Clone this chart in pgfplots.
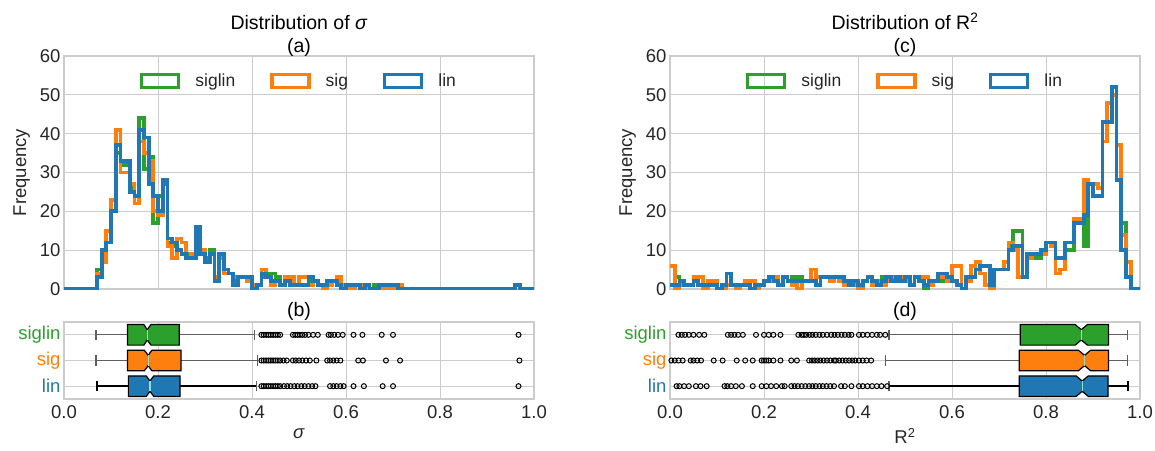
\documentclass[border=0pt]{standalone}
\usepackage{fontspec}
\setmainfont{Liberation Sans}
\usepackage{pgfplots}
\usepackage{pgfplotstable}
\pgfplotsset{compat=1.18}
\definecolor{cg}{RGB}{44,160,44}
\definecolor{co}{RGB}{255,127,14}
\definecolor{cb}{RGB}{31,119,180}
\definecolor{gridc}{RGB}{204,204,204}
\definecolor{txt}{RGB}{38,38,38}
\definecolor{medc}{RGB}{150,222,190}
\definecolor{whisk}{RGB}{95,95,95}

% sigma histogram: bin left edge, siglin, sig, lin
\pgfplotstableread{
x g o b
0.00 0 0 0
0.07 5 4 3
0.08 9 7 10
0.09 12 15 12
0.10 20 23 20
0.11 35 41 37
0.12 32 30 33
0.13 32 30 33
0.14 26 27 25
0.15 24 22 24
0.16 44 38 41
0.17 31 35 39
0.18 34 33 27
0.19 17 20 24
0.20 24 19 20
0.21 27 28 28
0.22 12 11 13
0.23 11 8 12
0.24 10 13 10
0.25 9 12 9
0.26 9 8 8
0.27 8 9 8
0.28 15 15 16
0.29 10 10 9
0.30 8 7 7
0.31 10 9 9
0.32 3 3 2
0.33 9 8 9
0.34 5 4 5
0.35 4 4 4
0.36 2 3 1
0.37 3 3 3
0.38 3 3 3
0.39 3 2 3
0.40 0 1 0
0.41 1 1 1
0.42 3 5 4
0.43 4 3 3
0.44 4 1 2
0.45 3 2 2
0.46 1 1 1
0.47 2 3 2
0.48 1 3 1
0.49 1 1 1
0.50 1 3 1
0.51 1 3 1
0.52 2 1 3
0.53 2 2 2
0.54 1 1 1
0.55 1 0 1
0.56 2 1 2
0.57 2 2 2
0.58 1 3 1
0.59 1 1 0
0.60 1 0 1
0.61 0 0 1
0.62 1 1 1
0.63 1 1 0
0.64 0 0 1
0.65 0 0 0
0.66 1 0 0
0.67 1 0 1
0.68 1 1 1
0.69 0 0 1
0.70 1 0 1
0.71 0 1 0
0.72 0 0 0
0.96 1 1 1
0.97 0 0 0
1.00 0 0 0
}\histL

% R^2 histogram
\pgfplotstableread{
x g o b
0.00 1 6 1
0.01 3 0 1
0.02 2 1 2
0.03 1 1 1
0.04 1 1 1
0.05 2 3 2
0.06 1 3 1
0.07 1 0 1
0.08 1 2 1
0.09 1 2 1
0.10 0 0 0
0.11 1 0 1
0.12 4 1 4
0.13 1 1 1
0.14 1 0 1
0.15 1 1 1
0.16 1 2 1
0.17 0 2 0
0.18 1 0 1
0.19 1 1 1
0.20 2 2 2
0.21 3 2 3
0.22 2 3 2
0.23 1 1 1
0.24 3 3 3
0.25 2 2 2
0.26 3 1 2
0.27 3 0 2
0.28 2 2 2
0.29 2 2 2
0.30 2 5 2
0.31 1 3 1
0.32 3 3 3
0.33 3 3 3
0.34 3 2 3
0.35 3 3 3
0.36 3 2 3
0.37 2 1 2
0.38 1 2 1
0.39 2 1 2
0.40 1 0 1
0.41 2 2 2
0.42 3 3 3
0.43 2 1 2
0.44 1 2 1
0.45 3 1 2
0.46 3 2 3
0.47 2 3 2
0.48 3 2 3
0.49 2 3 2
0.50 3 2 3
0.51 1 1 1
0.52 3 3 3
0.53 2 3 2
0.54 0 3 1
0.55 2 1 2
0.56 2 2 2
0.57 2 3 4
0.58 4 3 4
0.59 3 2 3
0.60 2 6 2
0.61 1 6 1
0.62 0 0 0
0.63 3 2 3
0.64 3 6 3
0.65 5 7 5
0.66 6 4 6
0.67 6 1 6
0.68 1 0 1
0.69 5 5 5
0.70 5 5 5
0.71 5 7 5
0.72 11 12 10
0.73 15 10 11
0.74 15 3 11
0.75 3 3 3
0.76 9 8 9
0.77 8 9 9
0.78 8 9 9
0.79 10 9 10
0.80 12 12 12
0.81 12 11 12
0.82 8 4 8
0.83 8 5 8
0.84 10 12 12
0.85 10 12 12
0.86 17 18 17
0.87 17 18 17
0.88 11 28 19
0.89 27 27 27
0.90 24 27 24
0.91 24 26 24
0.92 43 38 43
0.93 43 48 43
0.94 52 50 52
0.95 28 37 28
0.96 17 14 10
0.97 3 7 3
0.98 0 0 0
1.00 0 0 0
}\histR

\pgfplotsset{
  base/.style={scale only axis, anchor=south west, width=470pt, xmin=0, xmax=1,
    grid=major, major grid style={draw=gridc, line width=1pt},
    axis line style={draw=gridc, line width=1.2pt},
    major tick length=0pt, tick style={draw=none},
    every tick label/.append style={font=\fontsize{18.5}{22}\selectfont, text=txt},
    label style={font=\fontsize{18.5}{22}\selectfont, text=txt},
    /pgf/number format/assume math mode=true,
    xtick={0,0.2,0.4,0.6,0.8,1.0},
    clip=true,
  },
  hist/.style={base, height=233pt, ymin=0, ymax=60, ytick={0,10,20,30,40,50,60}, xticklabels={},
    ylabel={Frequency},
    ylabel style={yshift=3pt},
    legend columns=3,
    legend style={draw=none, fill=none, at={(0.5,1)}, anchor=north, yshift=-16pt,
      font=\fontsize{17.5}{21}\selectfont, text=txt, inner sep=0pt,
      /tikz/every odd column/.append style={column sep=13pt},
      /tikz/every even column/.append style={column sep=33pt}},
    legend image code/.code={\draw[##1, line width=3.4pt] (0pt,-6.5pt) rectangle (37pt,6.5pt);},
    title style={align=center, at={(0.5,1)}, anchor=south, yshift=-7pt, inner sep=0pt,
      font=\fontsize{19.5}{23}\selectfont, text=black},
  },
  stepline/.style={const plot mark left, no marks, line width=3.8pt},
  boxax/.style={base, height=77pt, ymin=-0.5, ymax=2.5, y dir=reverse, ytick={0,1,2},
    yticklabels={\textcolor{cg}{siglin},\textcolor{co}{sig},\textcolor{cb}{lin}},
    xticklabels={0.0,0.2,0.4,0.6,0.8,1.0},
    xticklabel style={yshift=-3pt},
    xlabel style={yshift=-3pt},
    title style={at={(0.5,1)}, anchor=south, yshift=-5pt, inner sep=0pt,
      font=\fontsize{19.5}{23}\selectfont, text=black},
  },
  bx/.style={draw=black, line width=1.2pt, line join=miter},
  wk/.style={whisk, line width=1.3pt},
  wkb/.style={black, line width=2pt},
  md/.style={medc, line width=1.2pt},
  outl/.style={only marks, mark=o, mark size=2.5pt, mark options={black, line width=1pt}},
}

\begin{document}
\begin{tikzpicture}
\useasboundingbox (0,0) rectangle (1155pt,450pt);

% ---------- left histogram ----------
\begin{axis}[hist, at={(64pt,161pt)}, title={Distribution of \textit{σ}\\(a)}]
\addplot[stepline, draw=cg] table[x=x, y=g] {\histL};
\addlegendentry{siglin}
\addplot[stepline, draw=co] table[x=x, y=o] {\histL};
\addlegendentry{sig}
\addplot[stepline, draw=cb] table[x=x, y=b] {\histL};
\addlegendentry{lin}
\end{axis}

% ---------- left box plots ----------
\begin{axis}[boxax, at={(64pt,51pt)}, title={(b)}, xlabel={\textit{σ}}]
% siglin
\addplot[wk] coordinates {(0.068,0) (0.135,0)};
\addplot[wk] coordinates {(0.245,0) (0.405,0)};
\addplot[wk] coordinates {(0.068,-0.2) (0.068,0.2)};
\addplot[wk] coordinates {(0.405,-0.2) (0.405,0.2)};
\addplot[bx, fill=cg] coordinates {(0.135,-0.4) (0.170,-0.4) (0.177,-0.2) (0.185,-0.4) (0.245,-0.4) (0.245,0.4) (0.185,0.4) (0.177,0.2) (0.170,0.4) (0.135,0.4)} -- cycle;
\addplot[md] coordinates {(0.177,-0.2) (0.177,0.2)};
\addplot[outl] coordinates {(0.42,0) (0.425,0) (0.43,0) (0.435,0) (0.44,0) (0.445,0) (0.45,0) (0.455,0) (0.46,0) (0.487,0) (0.492,0) (0.497,0) (0.502,0) (0.507,0) (0.513,0) (0.52,0) (0.53,0) (0.54,0) (0.563,0) (0.568,0) (0.575,0) (0.583,0) (0.593,0) (0.616,0) (0.635,0) (0.676,0) (0.70,0) (0.967,0)};
% sig
\addplot[wk] coordinates {(0.068,1) (0.135,1)};
\addplot[wk] coordinates {(0.249,1) (0.411,1)};
\addplot[wk] coordinates {(0.068,0.8) (0.068,1.2)};
\addplot[wk] coordinates {(0.411,0.8) (0.411,1.2)};
\addplot[bx, fill=co] coordinates {(0.135,0.6) (0.171,0.6) (0.179,0.8) (0.187,0.6) (0.249,0.6) (0.249,1.4) (0.187,1.4) (0.179,1.2) (0.171,1.4) (0.135,1.4)} -- cycle;
\addplot[md] coordinates {(0.179,0.8) (0.179,1.2)};
\addplot[outl] coordinates {(0.42,1) (0.425,1) (0.43,1) (0.435,1) (0.44,1) (0.445,1) (0.45,1) (0.455,1) (0.46,1) (0.467,1) (0.474,1) (0.487,1) (0.493,1) (0.5,1) (0.507,1) (0.515,1) (0.523,1) (0.537,1) (0.56,1) (0.566,1) (0.573,1) (0.58,1) (0.588,1) (0.626,1) (0.636,1) (0.685,1) (0.715,1) (0.969,1)};
% lin
\addplot[wkb] coordinates {(0.071,2) (0.137,2)};
\addplot[wkb] coordinates {(0.247,2) (0.41,2)};
\addplot[wkb] coordinates {(0.071,1.8) (0.071,2.2)};
\addplot[wk] coordinates {(0.41,1.8) (0.41,2.2)};
\addplot[bx, fill=cb] coordinates {(0.137,1.6) (0.175,1.6) (0.183,1.8) (0.191,1.6) (0.247,1.6) (0.247,2.4) (0.191,2.4) (0.183,2.2) (0.175,2.4) (0.137,2.4)} -- cycle;
\addplot[md] coordinates {(0.183,1.8) (0.183,2.2)};
\addplot[outl] coordinates {(0.42,2) (0.425,2) (0.43,2) (0.435,2) (0.44,2) (0.445,2) (0.45,2) (0.455,2) (0.46,2) (0.468,2) (0.475,2) (0.482,2) (0.49,2) (0.497,2) (0.505,2) (0.512,2) (0.52,2) (0.528,2) (0.535,2) (0.566,2) (0.573,2) (0.58,2) (0.588,2) (0.595,2) (0.616,2) (0.638,2) (0.678,2) (0.70,2) (0.967,2)};
\end{axis}

% ---------- right histogram ----------
\begin{axis}[hist, at={(670pt,161pt)}, title={Distribution of R\textsuperscript{2}\\(c)}]
\addplot[stepline, draw=cg] table[x=x, y=g] {\histR};
\addlegendentry{siglin}
\addplot[stepline, draw=co] table[x=x, y=o] {\histR};
\addlegendentry{sig}
\addplot[stepline, draw=cb] table[x=x, y=b] {\histR};
\addlegendentry{lin}
\end{axis}

% ---------- right box plots ----------
\begin{axis}[boxax, at={(670pt,51pt)}, title={(d)}, xlabel={R\textsuperscript{2}}]
% siglin
\addplot[wk] coordinates {(0.466,0) (0.745,0)};
\addplot[wk] coordinates {(0.933,0) (0.974,0)};
\addplot[wk] coordinates {(0.466,-0.2) (0.466,0.2)};
\addplot[wk] coordinates {(0.974,-0.2) (0.974,0.2)};
\addplot[bx, fill=cg] coordinates {(0.745,-0.4) (0.862,-0.4) (0.875,-0.2) (0.888,-0.4) (0.933,-0.4) (0.933,0.4) (0.888,0.4) (0.875,0.2) (0.862,0.4) (0.745,0.4)} -- cycle;
\addplot[md] coordinates {(0.875,-0.2) (0.875,0.2)};
\addplot[outl] coordinates {(0.018,0) (0.025,0) (0.032,0) (0.04,0) (0.05,0) (0.062,0) (0.073,0) (0.123,0) (0.13,0) (0.137,0) (0.145,0) (0.155,0) (0.183,0) (0.2,0) (0.21,0) (0.22,0) (0.235,0) (0.273,0) (0.28,0) (0.285,0) (0.29,0) (0.297,0) (0.303,0) (0.31,0) (0.318,0) (0.325,0) (0.334,0) (0.343,0) (0.35,0) (0.357,0) (0.365,0) (0.372,0) (0.38,0) (0.386,0) (0.402,0) (0.41,0) (0.42,0) (0.43,0) (0.44,0) (0.447,0) (0.458,0)};
% sig
\addplot[wk] coordinates {(0.458,1) (0.743,1)};
\addplot[wk] coordinates {(0.933,1) (0.974,1)};
\addplot[wk] coordinates {(0.458,0.8) (0.458,1.2)};
\addplot[wk] coordinates {(0.974,0.8) (0.974,1.2)};
\addplot[bx, fill=co] coordinates {(0.743,0.6) (0.869,0.6) (0.882,0.8) (0.895,0.6) (0.933,0.6) (0.933,1.4) (0.895,1.4) (0.882,1.2) (0.869,1.4) (0.743,1.4)} -- cycle;
\addplot[md] coordinates {(0.882,0.8) (0.882,1.2)};
\addplot[outl] coordinates {(0.003,1) (0.01,1) (0.018,1) (0.027,1) (0.044,1) (0.05,1) (0.058,1) (0.066,1) (0.093,1) (0.112,1) (0.142,1) (0.16,1) (0.176,1) (0.195,1) (0.2,1) (0.205,1) (0.21,1) (0.22,1) (0.235,1) (0.258,1) (0.27,1) (0.296,1) (0.302,1) (0.308,1) (0.314,1) (0.32,1) (0.327,1) (0.334,1) (0.341,1) (0.349,1) (0.353,1) (0.36,1) (0.367,1) (0.374,1) (0.381,1) (0.388,1) (0.394,1) (0.402,1) (0.41,1) (0.418,1) (0.428,1)};
% lin
\addplot[wkb] coordinates {(0.466,2) (0.743,2)};
\addplot[wkb] coordinates {(0.932,2) (0.974,2)};
\addplot[wk] coordinates {(0.466,1.8) (0.466,2.2)};
\addplot[wkb] coordinates {(0.974,1.8) (0.974,2.2)};
\addplot[bx, fill=cb] coordinates {(0.743,1.6) (0.864,1.6) (0.877,1.8) (0.890,1.6) (0.932,1.6) (0.932,2.4) (0.890,2.4) (0.877,2.2) (0.864,2.4) (0.743,2.4)} -- cycle;
\addplot[md] coordinates {(0.877,1.8) (0.877,2.2)};
\addplot[outl] coordinates {(0.014,2) (0.02,2) (0.03,2) (0.04,2) (0.055,2) (0.065,2) (0.078,2) (0.116,2) (0.122,2) (0.13,2) (0.14,2) (0.153,2) (0.176,2) (0.195,2) (0.205,2) (0.215,2) (0.226,2) (0.238,2) (0.244,2) (0.258,2) (0.265,2) (0.272,2) (0.28,2) (0.288,2) (0.296,2) (0.303,2) (0.31,2) (0.318,2) (0.325,2) (0.333,2) (0.341,2) (0.349,2) (0.364,2) (0.372,2) (0.386,2) (0.402,2) (0.41,2) (0.42,2) (0.43,2) (0.44,2) (0.45,2) (0.462,2)};
\end{axis}
\end{tikzpicture}
\end{document}
